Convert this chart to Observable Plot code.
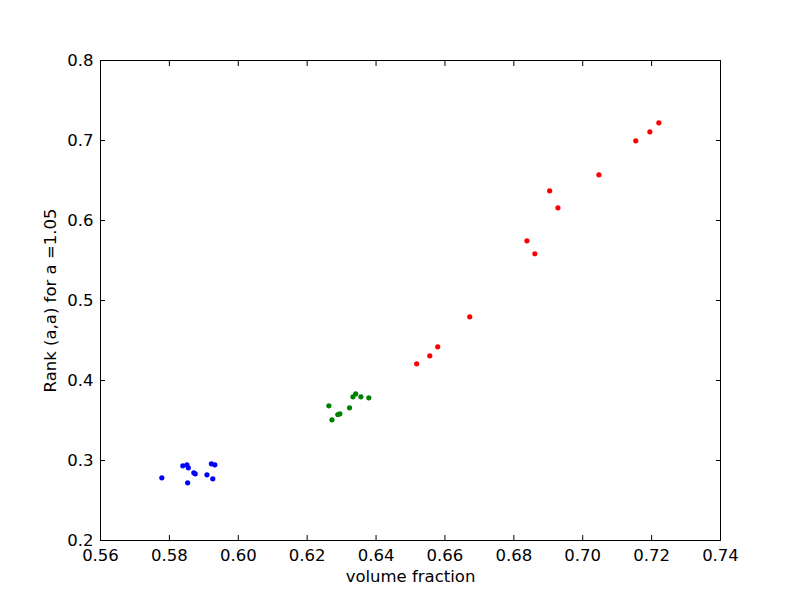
<!DOCTYPE html>
<html>
<head>
<meta charset="utf-8">
<script src="https://cdn.jsdelivr.net/npm/d3@7"></script>
<script src="https://cdn.jsdelivr.net/npm/@observablehq/plot@0.6"></script>
<style>
  html, body { margin: 0; padding: 0; background: #fff; }
</style>
</head>
<body>
<div id="chart"></div>
<script>
const blueX  = [0.5778, 0.5839, 0.5851, 0.5855, 0.5853, 0.5871, 0.5875, 0.5909, 0.5922, 0.5932, 0.5926];
const blueY  = [0.2784, 0.2934, 0.2946, 0.2909, 0.2721, 0.2846, 0.2834, 0.2821, 0.2959, 0.2946, 0.2771];
const greenX = [0.6263, 0.6272, 0.6289, 0.6295, 0.6323, 0.6333, 0.6341, 0.6356, 0.6379];
const greenY = [0.3684, 0.3509, 0.3575, 0.3584, 0.3659, 0.3796, 0.3834, 0.3796, 0.3784];
const redX   = [0.6518, 0.6556, 0.6579, 0.6672, 0.6838, 0.6861, 0.6904, 0.6928, 0.7047, 0.7154, 0.7195, 0.7221];
const redY   = [0.4209, 0.4309, 0.4421, 0.4796, 0.5746, 0.5584, 0.6371, 0.6159, 0.6571, 0.6996, 0.7109, 0.7221];
const xTicks = [0.56, 0.58, 0.60, 0.62, 0.64, 0.66, 0.68, 0.70, 0.72, 0.74];
const yTicks = [0.2, 0.3, 0.4, 0.5, 0.6, 0.7, 0.8];
const xLabel = "volume fraction";
const yLabel = "Rank (a,a) for a =1.05";

const groups = [
  {xs: blueX, ys: blueY, color: "#0000ff"},
  {xs: greenX, ys: greenY, color: "#008000"},
  {xs: redX, ys: redY, color: "#ff0000"}
];
const data = groups.flatMap(g => g.xs.map((x, i) => ({x, y: g.ys[i], c: g.color})));

const fmtX = d => d.toFixed(2);
const fmtY = d => d.toFixed(1);

const chart = Plot.plot({
  width: 800,
  height: 600,
  marginLeft: 100,
  marginRight: 80,
  marginTop: 60,
  marginBottom: 60,
  style: {fontFamily: "DejaVu Sans", fontSize: "16.5px", color: "black", background: "white"},
  x: {domain: [0.56, 0.74]},
  y: {domain: [0.2, 0.8]},
  marks: [
    Plot.dot(data, {x: "x", y: "y", fill: "c", r: 2.6}),
    Plot.axisX({ticks: xTicks, tickSize: 0, tickPadding: 9, tickFormat: fmtX, label: xLabel, labelAnchor: "center", labelArrow: "none", labelOffset: 41}),
    Plot.axisX({ticks: xTicks, tickSize: -5, text: null, label: null, stroke: "black"}),
    Plot.axisX({anchor: "top", ticks: xTicks, tickSize: -5, text: null, label: null, stroke: "black"}),
    Plot.axisY({ticks: yTicks, tickSize: 0, tickPadding: 7, tickFormat: fmtY, label: yLabel, labelAnchor: "center", labelArrow: "none", labelOffset: 56}),
    Plot.axisY({ticks: yTicks, tickSize: -5, text: null, label: null, stroke: "black"}),
    Plot.axisY({anchor: "right", ticks: yTicks, tickSize: -5, text: null, label: null, stroke: "black"}),
    Plot.frame({stroke: "black", strokeWidth: 1})
  ]
});
document.getElementById("chart").appendChild(chart);
</script>
</body>
</html>
